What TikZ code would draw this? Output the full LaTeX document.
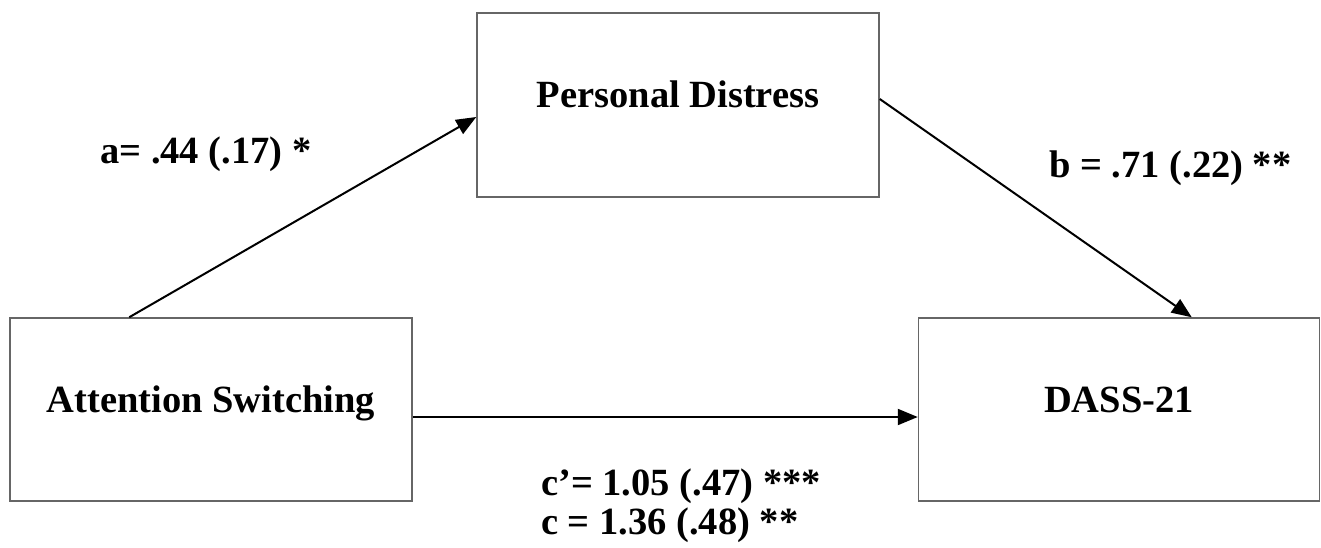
\documentclass[tikz,border=0pt]{standalone}
\usepackage{fontspec}
\setmainfont{Liberation Serif}
\usetikzlibrary{arrows.meta,calc}
\begin{document}
\begin{tikzpicture}[x=1pt,y=-1pt,
  every node/.style={font=\fontsize{38.5}{41}\selectfont\bfseries},
  varbox/.style={draw=black!60,line width=1.5pt,inner sep=0pt,
    text height=25pt,text depth=20pt,align=center},
  path/.style={line width=2pt,-{Triangle[length=20pt,width=16pt]}},
  coef/.style={inner sep=0pt,anchor=base west}]
\useasboundingbox (0,0) rectangle (1321,547);
\node[varbox,minimum width=402pt,minimum height=183pt] (L) at (211,409.5) {Attention Switching};
\node[varbox,minimum width=402pt,minimum height=184pt] (T) at (678,105) {Personal Distress};
\node[varbox,minimum width=401pt,minimum height=183pt] (R) at (1119,409.5) {DASS-21};
\draw[path] ($(L.north west)+(120,0)$) -- ($(T.west)+(0,12)$);
\draw[path] ($(T.east)+(0,-6)$) -- ($(R.north west)+(274,0)$);
\draw[path] ($(L.east)+(0,7.5)$) -- ($(R.west)+(0,7.5)$);
\node[coef] (la) at (100,163) {a= .44 (.17) *};
\node[coef] (lb) at (1049,177) {b = .71 (.22) **};
\node[coef] (lc1) at (541,495) {c’= 1.05 (.47) ***};
\node[coef] (lc2) at (541,534) {c = 1.36 (.48) **};
\end{tikzpicture}
\end{document}
